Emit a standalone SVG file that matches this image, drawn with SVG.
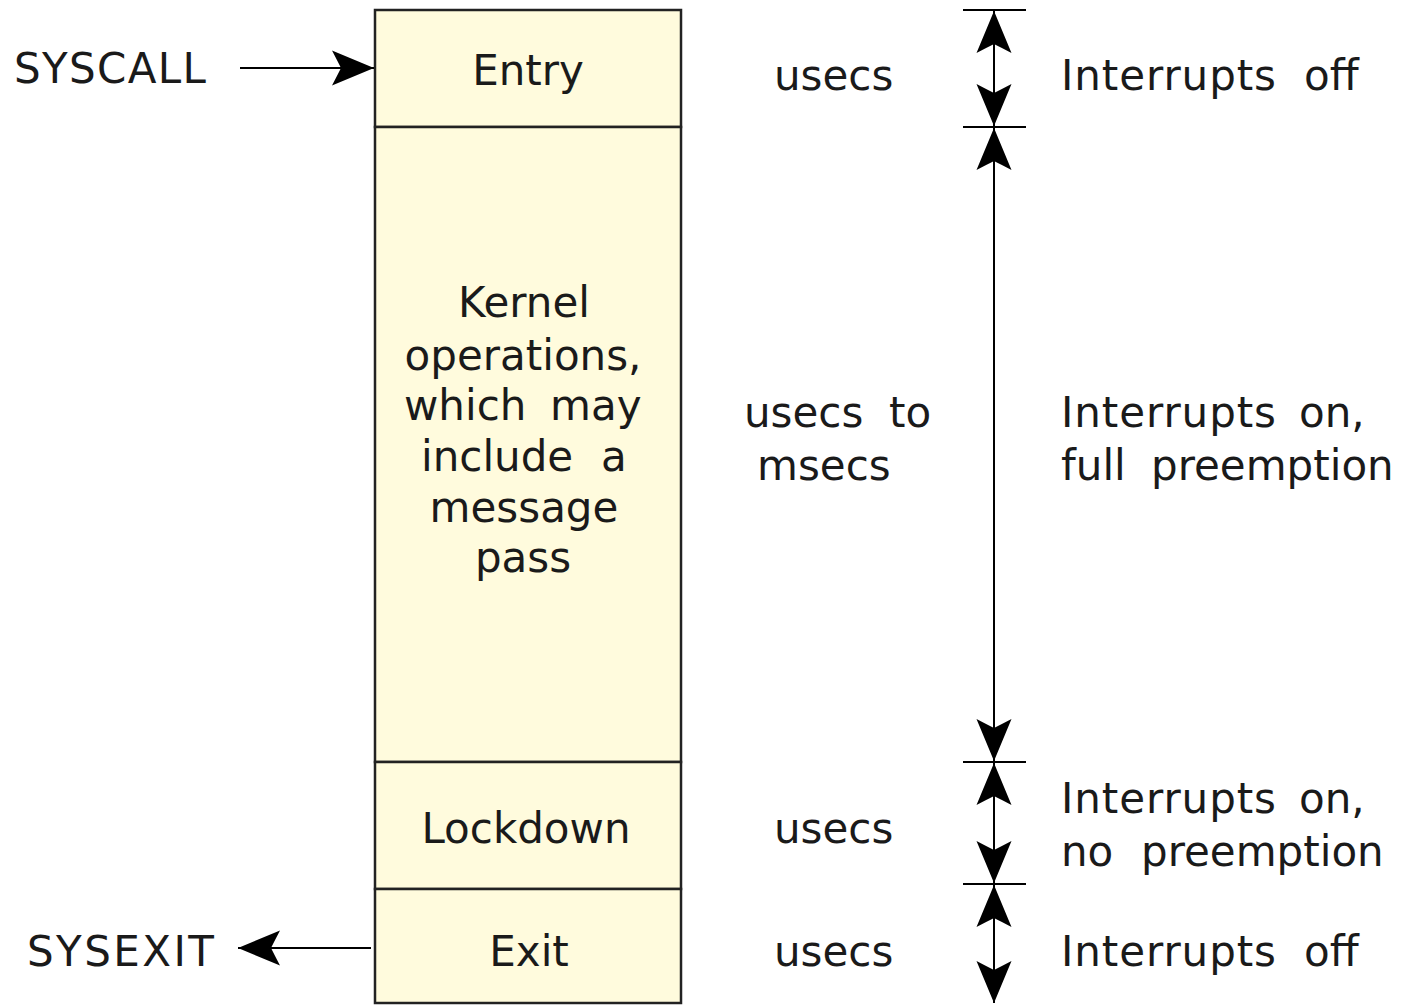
<svg xmlns="http://www.w3.org/2000/svg" width="1402" height="1005" viewBox="0 0 1402 1005">
  <style>
    .t { font-family: "DejaVu Sans", Verdana, sans-serif; font-size: 42px; fill: #1a1a1a; }
    .c { text-anchor: middle; }
    .box { fill: #fffbdd; stroke: #222; stroke-width: 2.5; }
    .ln { stroke: #000; stroke-width: 2; fill: none; }
  </style>
  <defs>
    <marker id="head" markerUnits="userSpaceOnUse" markerWidth="44" markerHeight="40" viewBox="-42 -18 44 36" refX="0" refY="0" orient="auto-start-reverse">
      <path d="M0,0 L-42,-17.5 Q-36,-6 -33,0 Q-36,6 -42,17.5 Z" fill="#000"/>
    </marker>
  </defs>

  <!-- stacked phases of a kernel call -->
  <g id="entry">
    <rect class="box" x="375" y="10" width="306" height="117"/>
    <text class="t c" x="528" y="85">Entry</text>
  </g>
  <g id="kernel">
    <rect class="box" x="375" y="127" width="306" height="635"/>
    <text class="t c" x="524" y="317">Kernel</text>
    <text class="t c" x="523" y="370">operations,</text>
    <text class="t" y="420"><tspan x="404">which</tspan><tspan x="550">may</tspan></text>
    <text class="t" y="471"><tspan x="421">include</tspan><tspan x="601">a</tspan></text>
    <text class="t c" x="524" y="522">message</text>
    <text class="t c" x="523" y="572">pass</text>
  </g>
  <g id="lockdown">
    <rect class="box" x="375" y="762" width="306" height="127"/>
    <text class="t c" x="526" y="843">Lockdown</text>
  </g>
  <g id="exit">
    <rect class="box" x="375" y="889" width="306" height="114"/>
    <text class="t c" x="529" y="966">Exit</text>
  </g>

  <!-- entry / exit labels -->
  <g id="syscall">
    <text class="t" x="14" y="83" textLength="192" lengthAdjust="spacing">SYSCALL</text>
  </g>
  <g id="sysexit">
    <text class="t" x="27" y="966" textLength="187" lengthAdjust="spacing">SYSEXIT</text>
  </g>

  <!-- durations -->
  <g id="dur-entry"><text class="t" x="774" y="90">usecs</text></g>
  <g id="dur-kernel">
    <text class="t" y="427"><tspan x="744">usecs</tspan><tspan x="889">to</tspan></text>
    <text class="t" x="757" y="480">msecs</text>
  </g>
  <g id="dur-lockdown"><text class="t" x="774" y="843">usecs</text></g>
  <g id="dur-exit"><text class="t" x="774" y="966">usecs</text></g>

  <!-- interrupt states -->
  <g id="state-entry">
    <text class="t" y="90"><tspan x="1061" textLength="215" lengthAdjust="spacing">Interrupts</tspan><tspan x="1304">off</tspan></text>
  </g>
  <g id="state-kernel">
    <text class="t" y="427"><tspan x="1061" textLength="215" lengthAdjust="spacing">Interrupts</tspan><tspan x="1299">on,</tspan></text>
    <text class="t" y="480"><tspan x="1061">full</tspan><tspan x="1151">preemption</tspan></text>
  </g>
  <g id="state-lockdown">
    <text class="t" y="813"><tspan x="1061" textLength="215" lengthAdjust="spacing">Interrupts</tspan><tspan x="1299">on,</tspan></text>
    <text class="t" y="866"><tspan x="1061">no</tspan><tspan x="1141">preemption</tspan></text>
  </g>
  <g id="state-exit">
    <text class="t" y="966"><tspan x="1061" textLength="215" lengthAdjust="spacing">Interrupts</tspan><tspan x="1304">off</tspan></text>
  </g>

  <!-- connectors: call arrows and dimension lines -->
  <g id="connectors">
    <line class="ln" x1="240" y1="68" x2="374" y2="68" marker-end="url(#head)"/>
    <line class="ln" x1="371" y1="948" x2="238" y2="948" marker-end="url(#head)"/>

    <line class="ln" x1="963" y1="10" x2="1026" y2="10"/>
    <line class="ln" x1="963" y1="127" x2="1026" y2="127"/>
    <line class="ln" x1="963" y1="762" x2="1026" y2="762"/>
    <line class="ln" x1="963" y1="884" x2="1026" y2="884"/>

    <line class="ln" x1="994" y1="11" x2="994" y2="126" marker-start="url(#head)" marker-end="url(#head)"/>
    <line class="ln" x1="994" y1="128" x2="994" y2="761" marker-start="url(#head)" marker-end="url(#head)"/>
    <line class="ln" x1="994" y1="763" x2="994" y2="883" marker-start="url(#head)" marker-end="url(#head)"/>
    <line class="ln" x1="994" y1="885" x2="994" y2="1003" marker-start="url(#head)" marker-end="url(#head)"/>
  </g>
</svg>
